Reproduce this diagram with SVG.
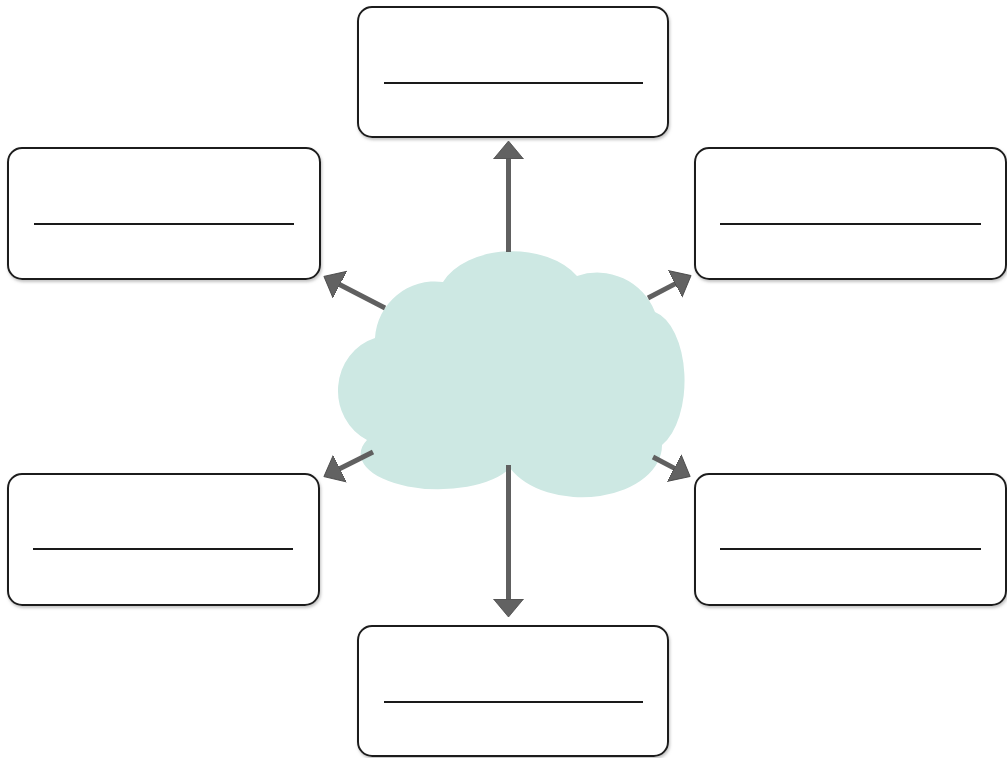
<svg xmlns="http://www.w3.org/2000/svg" width="1007" height="758" viewBox="0 0 1007 758">
  <style>
    .box { fill: #ffffff; stroke: #1e1e1e; stroke-width: 2; }
    .blank { stroke: #1a1a1a; stroke-width: 2; }
    .conn { stroke: #606060; stroke-width: 5; fill: none; marker-end: url(#head); }
    .cloud { fill: #cde8e3; }
  </style>
  <defs>
    <filter id="shadow" x="-5%" y="-5%" width="110%" height="115%">
      <feDropShadow dx="1" dy="2" stdDeviation="1.5" flood-color="#999999" flood-opacity="0.6"/>
    </filter>
    <marker id="head" markerUnits="userSpaceOnUse" markerWidth="20" markerHeight="32" viewBox="0 0 20 32" refX="1" refY="16" orient="auto">
      <path d="M0,1 L18,16 L0,31 Z" fill="#626262" stroke="#454545" stroke-width="0.8"/>
    </marker>
  </defs>
  <rect width="1007" height="758" fill="#ffffff"/>

  <g id="cloud">
    <path class="cloud" d="M 375 338 A 60 60 0 0 1 443 282 A 75 50 0 0 1 577 276 A 62 62 0 0 1 655 312 A 37 70 0 0 1 662 445 A 80 52 0 0 1 510 468 A 75 34 0 0 1 367 440 A 52 55 0 0 1 375 338 Z"/>
  </g>

  <g id="connectors">
    <line class="conn" x1="508.5" y1="252" x2="508.5" y2="158"/>
    <line class="conn" x1="508.5" y1="465" x2="508.5" y2="600"/>
    <line class="conn" x1="385" y1="308" x2="339" y2="284.2"/>
    <line class="conn" x1="648" y1="298" x2="676" y2="283.4"/>
    <line class="conn" x1="373" y1="452" x2="339.1" y2="469"/>
    <line class="conn" x1="653" y1="457" x2="675.1" y2="468.6"/>
  </g>

  <g id="box-top">
    <rect class="box" x="358" y="7" width="310" height="130" rx="14" filter="url(#shadow)"/>
    <line class="blank" x1="384" y1="83" x2="643" y2="83"/>
  </g>
  <g id="box-upper-left">
    <rect class="box" x="8" y="148" width="312" height="131" rx="14" filter="url(#shadow)"/>
    <line class="blank" x1="34" y1="224" x2="294" y2="224"/>
  </g>
  <g id="box-upper-right">
    <rect class="box" x="695" y="148" width="311" height="131" rx="14" filter="url(#shadow)"/>
    <line class="blank" x1="720" y1="224" x2="981" y2="224"/>
  </g>
  <g id="box-lower-left">
    <rect class="box" x="8" y="474" width="311" height="131" rx="14" filter="url(#shadow)"/>
    <line class="blank" x1="33" y1="549" x2="293" y2="549"/>
  </g>
  <g id="box-lower-right">
    <rect class="box" x="695" y="474" width="311" height="131" rx="14" filter="url(#shadow)"/>
    <line class="blank" x1="720" y1="549" x2="981" y2="549"/>
  </g>
  <g id="box-bottom">
    <rect class="box" x="358" y="626" width="310" height="130" rx="14" filter="url(#shadow)"/>
    <line class="blank" x1="384" y1="702" x2="643" y2="702"/>
  </g>
</svg>
